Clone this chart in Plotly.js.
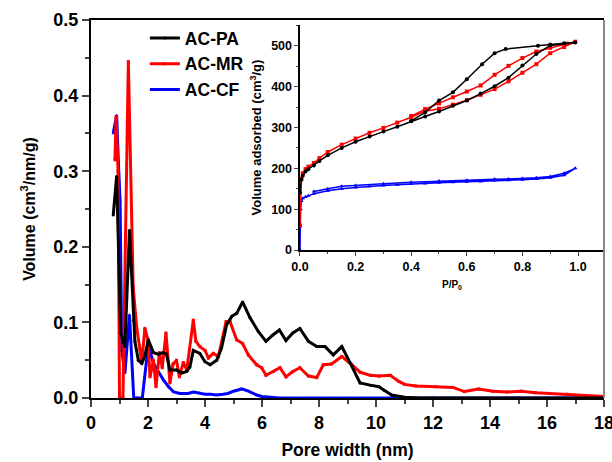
<!DOCTYPE html>
<html>
<head>
<meta charset="utf-8">
<script src="https://cdn.plot.ly/plotly-3.0.1.min.js"></script>
<style>html,body{margin:0;padding:0;background:#fff;}#chart{width:612px;height:462px;}</style>
</head>
<body>
<div id="chart"></div>
<script>
// ---- Main chart: pore size distribution ----
const paX = [0.78, 0.9, 1.04, 1.19, 1.35, 1.49, 1.54, 1.66, 1.78, 1.89, 2.01, 2.19, 2.36, 2.54, 2.65, 2.77, 3.0, 3.18, 3.36, 3.47, 3.59, 3.82, 4.0, 4.18, 4.41, 4.58, 4.76, 4.94, 5.11, 5.32, 5.58, 5.87, 6.14, 6.37, 6.61, 6.84, 7.08, 7.33, 7.63, 7.92, 8.21, 8.5, 8.8, 9.1, 9.44, 9.8, 10.1, 10.3, 10.55, 11.0, 11.5, 12.0, 13.0, 14.0, 15.0, 16.0, 17.0, 18.0];
const paY = [0.242, 0.293, 0.086, 0.068, 0.222, 0.103, 0.075, 0.05, 0.046, 0.055, 0.077, 0.06, 0.058, 0.06, 0.058, 0.037, 0.037, 0.033, 0.035, 0.041, 0.063, 0.059, 0.048, 0.044, 0.05, 0.066, 0.097, 0.108, 0.112, 0.127, 0.106, 0.088, 0.075, 0.083, 0.09, 0.076, 0.086, 0.092, 0.075, 0.068, 0.068, 0.057, 0.068, 0.046, 0.02, 0.017, 0.015, 0.01, 0.004, 0.001, 0.0, 0.0, 0.0, 0.0, 0.0, 0.0, 0.0, 0.0];

const mrX = [0.84, 0.88, 0.95, 1.0, 1.12, 1.31, 1.48, 1.6, 1.72, 1.78, 1.89, 2.0, 2.07, 2.19, 2.28, 2.4, 2.5, 2.63, 2.77, 2.88, 3.0, 3.1, 3.24, 3.36, 3.59, 3.68, 3.82, 4.0, 4.12, 4.29, 4.47, 4.74, 4.88, 5.11, 5.32, 5.52, 5.81, 5.99, 6.14, 6.4, 6.63, 6.84, 7.08, 7.33, 7.63, 7.92, 8.15, 8.44, 8.8, 9.15, 9.45, 9.8, 10.1, 10.5, 10.8, 11.0, 11.4, 12.1, 12.7, 13.1, 13.6, 14.1, 14.6, 15.1, 15.6, 16.1, 16.7, 17.3, 18.0];
const mrY = [0.315, 0.372, 0.3, 0.0, 0.0, 0.445, 0.147, 0.094, 0.064, 0.046, 0.092, 0.077, 0.028, 0.05, 0.015, 0.06, 0.04, 0.086, 0.02, 0.045, 0.05, 0.028, 0.047, 0.037, 0.103, 0.075, 0.068, 0.063, 0.053, 0.059, 0.055, 0.101, 0.101, 0.077, 0.072, 0.057, 0.044, 0.04, 0.03, 0.035, 0.04, 0.028, 0.035, 0.04, 0.029, 0.027, 0.044, 0.045, 0.055, 0.044, 0.034, 0.03, 0.029, 0.03, 0.022, 0.018, 0.016, 0.015, 0.014, 0.0085, 0.012, 0.009, 0.008, 0.009, 0.007, 0.006, 0.005, 0.003, 0.002];

const cfX = [0.78, 0.9, 0.96, 1.02, 1.08, 1.19, 1.35, 1.46, 1.5, 1.6, 1.7, 1.8, 2.01, 2.19, 2.36, 2.54, 2.72, 2.9, 3.12, 3.4, 3.6, 3.8, 4.0, 4.2, 4.4, 4.64, 4.8, 5.0, 5.29, 5.52, 5.81, 6.0, 6.3, 6.6, 7.0, 7.5, 8.0, 8.5, 9.0, 9.5, 10.0, 10.5, 11.0, 11.5, 12.0, 12.5, 13.0, 13.5, 14.0, 14.5, 15.0, 15.5, 16.0, 16.5, 17.0, 17.5, 18.0];
const cfY = [0.35, 0.374, 0.313, 0.262, 0.063, 0.033, 0.11, 0.035, 0.0, 0.0, 0.0, 0.0, 0.07, 0.046, 0.035, 0.024, 0.015, 0.008, 0.006, 0.006, 0.008, 0.007, 0.005, 0.005, 0.004, 0.005, 0.006, 0.009, 0.012, 0.009, 0.004, 0.002, 0.001, 0.0, 0.0, 0.0, 0.0, 0.0, 0.0, 0.0, 0.0, 0.0, 0.0, 0.0, 0.0, 0.0, 0.0, 0.0, 0.0, 0.0, 0.0, 0.0, 0.0, 0.0, 0.0, 0.0, 0.0];

// ---- Inset: N2 isotherms (adsorption then desorption) ----
const isoPaX = [0.0, 0.005, 0.01, 0.02, 0.03, 0.05, 0.07, 0.1, 0.15, 0.2, 0.25, 0.3, 0.35, 0.4, 0.45, 0.5, 0.55, 0.6, 0.65, 0.7, 0.75, 0.8, 0.85, 0.9, 0.99, 0.95, 0.9, 0.856, 0.74, 0.7, 0.655, 0.6, 0.55, 0.5, 0.45, 0.4];
const isoPaY = [140, 172, 182, 192, 198, 207, 218, 232, 250, 265, 278, 290, 302, 315, 327, 339, 353, 366, 383, 401, 422, 452, 480, 501, 508, 506, 503, 500, 492, 482, 455, 418, 386, 366, 337, 316];

const isoMrX = [0.0, 0.005, 0.01, 0.02, 0.03, 0.05, 0.07, 0.1, 0.15, 0.2, 0.25, 0.3, 0.35, 0.4, 0.45, 0.5, 0.55, 0.6, 0.65, 0.7, 0.75, 0.8, 0.85, 0.9, 0.95, 0.99, 0.96, 0.9, 0.85, 0.8, 0.75, 0.7, 0.65, 0.6, 0.55, 0.5, 0.45, 0.4];
const isoMrY = [60, 175, 188, 198, 204, 213, 225, 240, 258, 273, 287, 299, 312, 325, 340, 346, 356, 367, 380, 394, 413, 434, 455, 482, 497, 510, 505, 495, 486, 470, 451, 429, 403, 388, 374, 359, 345, 328];

const isoCfX = [0.0, 0.001, 0.002, 0.005, 0.01, 0.02, 0.03, 0.05, 0.1, 0.15, 0.2, 0.25, 0.3, 0.35, 0.4, 0.45, 0.5, 0.55, 0.6, 0.65, 0.7, 0.75, 0.8, 0.85, 0.9, 0.95, 0.99, 0.95, 0.9, 0.85, 0.8, 0.75, 0.7, 0.6, 0.5, 0.4, 0.3, 0.2, 0.15, 0.1, 0.05];
const isoCfY = [0, 60, 100, 120, 127, 130, 133, 138, 145, 150, 153, 156, 158, 160, 162, 163, 165, 166, 167, 168, 170, 171, 172, 174, 177, 183, 200, 188, 180, 177, 175, 174, 173, 171, 169, 166, 162, 158, 156, 150, 143];

const names = ['AC-PA', 'AC-MR', 'AC-CF'];
const colors = ['#000000', '#ff0000', '#0000ff'];
const symbols = ['circle', 'square', 'triangle-up'];

const mainX = [paX, mrX, cfX], mainY = [paY, mrY, cfY];
const isoX = [isoPaX, isoMrX, isoCfX], isoY = [isoPaY, isoMrY, isoCfY];

const traces = [];
for (let i = 2; i >= 0; i--) {
  traces.push({
    x: isoX[i], y: isoY[i], xaxis: 'x2', yaxis: 'y2', type: 'scatter', mode: 'lines+markers',
    line: {color: colors[i], width: 1.5}, marker: {color: colors[i], symbol: symbols[i], size: 4},
    showlegend: false, hoverinfo: 'skip'
  });
}
const mainTraces = [];
for (let i = 0; i < 3; i++) {
  mainTraces.push({
    x: mainX[i], y: mainY[i], xaxis: 'x', yaxis: 'y', type: 'scatter', mode: 'lines+markers',
    name: names[i], line: {color: colors[i], width: 3}, marker: {color: colors[i], symbol: symbols[i], size: 3}
  });
}
const data = traces.concat([mainTraces[2], mainTraces[1], mainTraces[0]]);

const bold = (s) => ({family: 'Liberation Sans, Arial, sans-serif', size: s, color: '#000', weight: 'bold'});

const layout = {
  width: 612, height: 462,
  margin: {l: 91, r: 8, t: 20, b: 64},
  paper_bgcolor: '#fff', plot_bgcolor: '#fff',
  showlegend: true,
  legend: {x: 0.105, y: 1.0, xanchor: 'left', yanchor: 'top', font: bold(17.5), bgcolor: 'rgba(0,0,0,0)',
           traceorder: 'reversed', tracegroupgap: 0, itemwidth: 30},
  xaxis: {
    domain: [0, 1], range: [0, 18], dtick: 2, tick0: 0, ticks: 'outside', ticklen: 7, tickwidth: 2,
    minor: {dtick: 1, ticks: 'outside', ticklen: 4, tickwidth: 2, showgrid: false},
    showline: true, linewidth: 2, linecolor: '#000', mirror: true, showgrid: false, zeroline: false,
    ticklabeloverflow: 'allow',
    tickfont: bold(18), title: {text: 'Pore width (nm)', font: bold(17.5), standoff: 12}, anchor: 'y'
  },
  yaxis: {
    domain: [0, 1], range: [0, 0.5], dtick: 0.1, tick0: 0, tickformat: '.1f', ticks: 'outside', ticklen: 7, tickwidth: 2,
    minor: {dtick: 0.05, ticks: 'outside', ticklen: 4, tickwidth: 2, showgrid: false},
    showline: true, linewidth: 2, linecolor: '#000', showgrid: false, zeroline: false,
    ticklabeloverflow: 'allow',
    tickfont: bold(18), title: {text: 'Volume (cm<sup>3</sup>/nm/g)', font: bold(16), standoff: 14}, anchor: 'x'
  },
  xaxis2: {
    domain: [0.4074, 1], range: [0, 1.0935], dtick: 0.2, tick0: 0, tickformat: '.1f', ticks: 'outside', ticklen: 4, tickwidth: 1,
    minor: {dtick: 0.1, ticks: 'outside', ticklen: 2.5, tickwidth: 1, showgrid: false},
    showline: true, linewidth: 1.5, linecolor: '#000', showgrid: false, zeroline: false,
    tickfont: bold(12.5), title: {text: 'P/P<sub>0</sub>', font: bold(10), standoff: 8}, anchor: 'y2'
  },
  yaxis2: {
    domain: [0.3915, 0.9868], range: [0, 551], dtick: 100, tick0: 0, ticks: 'outside', ticklen: 4, tickwidth: 1,
    minor: {dtick: 50, ticks: 'outside', ticklen: 2.5, tickwidth: 1, showgrid: false},
    showline: true, linewidth: 1.5, linecolor: '#000', showgrid: false, zeroline: false,
    tickfont: bold(12.5), title: {text: 'Volume adsorbed (cm<sup>3</sup>/g)', font: bold(13), standoff: 6}, anchor: 'x2'
  },
  shapes: [
    {type: 'line', xref: 'paper', yref: 'paper', x0: 1, x1: 1, y0: 0, y1: 1, line: {color: '#888', width: 2}}
  ]
};

Plotly.newPlot('chart', data, layout, {displayModeBar: false, staticPlot: true});
</script>
</body>
</html>
